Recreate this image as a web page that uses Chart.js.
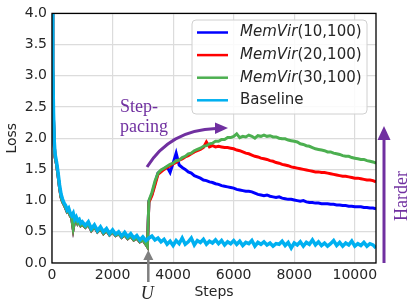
<!DOCTYPE html>
<html>
<head>
<meta charset="utf-8">
<script src="https://cdn.jsdelivr.net/npm/chart.js@4"></script>
<style>
  html, body { margin: 0; padding: 0; background: #fff; }
  #wrap { width: 415px; height: 307px; }
</style>
</head>
<body>
<div id="wrap"><canvas id="lossChart" width="415" height="307"></canvas></div>
<script>
// Loss vs. steps, MemVir curricula against the baseline

// sample positions (steps)
const headSteps = [0, 25, 50, 75, 100, 150, 200, 250, 300, 350, 400, 450, 500,
  550, 600, 650, 700, 750, 800, 850, 900, 950, 1000];

// baseline, 0..1000 then every 100 up to 10700
const baselineHead = [4.6, 3.2, 2.4, 1.95, 1.75, 1.62, 1.45, 1.25, 1.10, 1.02, 0.96, 0.92, 0.85,
  0.88, 0.80, 0.76, 0.80, 0.70, 0.74, 0.68, 0.70, 0.64, 0.66];
const baselineTail = [
  0.60, 0.66, 0.55, 0.61, 0.52, 0.58, 0.50, 0.55, 0.47,
  0.53, 0.46, 0.50, 0.43, 0.49, 0.42, 0.47, 0.40, 0.44, 0.37,
  0.42, 0.36, 0.40, 0.43, 0.37, 0.40, 0.34, 0.38, 0.30, 0.35,
  0.28, 0.36, 0.31, 0.40, 0.30, 0.34, 0.40, 0.29, 0.36, 0.33,
  0.38, 0.30, 0.35, 0.32, 0.37, 0.31, 0.36, 0.29, 0.34, 0.31,
  0.36, 0.30, 0.35, 0.28, 0.33, 0.31, 0.36, 0.27, 0.33, 0.30,
  0.34, 0.29, 0.32, 0.27, 0.31, 0.30, 0.35, 0.28, 0.33, 0.24,
  0.32, 0.29, 0.34, 0.27, 0.33, 0.30, 0.37, 0.29, 0.34, 0.28,
  0.32, 0.27, 0.31, 0.36, 0.28, 0.33, 0.27, 0.32, 0.29, 0.35,
  0.27, 0.31, 0.28, 0.33, 0.27, 0.31, 0.29, 0.24
];

// MemVir runs share the warm-up phase until U (~3150 steps)
const warmHead = [4.6, 3.1, 2.3, 1.9, 1.7, 1.58, 1.40, 1.20, 1.05, 0.98, 0.93, 0.88, 0.82,
  0.84, 0.76, 0.72, 0.55, 0.68, 0.70, 0.63, 0.66, 0.60, 0.62];
const warmTail = [
  0.57, 0.62, 0.52, 0.58, 0.50, 0.55, 0.47, 0.52, 0.45,
  0.50, 0.44, 0.47, 0.41, 0.45, 0.39, 0.43, 0.37, 0.40, 0.34,
  0.37, 0.30, 0.26
];

// after U, every 100 steps from 3200 to 10700
const memvir10 = [
  0.99, 1.10, 1.28, 1.44, 1.48, 1.51, 1.54, 1.45,
  1.60, 1.76, 1.57, 1.53, 1.50, 1.46, 1.44, 1.40, 1.38, 1.36,
  1.33, 1.32, 1.30, 1.29, 1.27, 1.26, 1.24, 1.23, 1.22, 1.21,
  1.20, 1.18, 1.17, 1.16, 1.15, 1.15, 1.14, 1.12, 1.10, 1.09,
  1.08, 1.09, 1.07, 1.06, 1.05, 1.06, 1.04, 1.03, 1.02, 1.02,
  1.01, 1.00, 0.99, 1.00, 0.98, 0.97, 0.97, 0.96, 0.96, 0.95,
  0.95, 0.95, 0.94, 0.94, 0.93, 0.93, 0.92, 0.92, 0.91, 0.91,
  0.90, 0.90, 0.90, 0.89, 0.89, 0.88, 0.88, 0.87
];
const memvir20 = [
  0.97, 1.08, 1.25, 1.42, 1.46, 1.50, 1.53, 1.56,
  1.59, 1.61, 1.65, 1.67, 1.70, 1.72, 1.75, 1.78, 1.80, 1.82,
  1.85, 1.94, 1.86, 1.88, 1.86, 1.87, 1.86, 1.85, 1.85, 1.84,
  1.83, 1.81, 1.80, 1.78, 1.76, 1.75, 1.73, 1.71, 1.70, 1.68,
  1.67, 1.66, 1.64, 1.63, 1.61, 1.60, 1.58, 1.57, 1.56, 1.54,
  1.53, 1.52, 1.51, 1.50, 1.49, 1.48, 1.47, 1.46, 1.46, 1.45,
  1.45, 1.44, 1.43, 1.42, 1.41, 1.40, 1.39, 1.39, 1.38, 1.37,
  1.36, 1.36, 1.35, 1.34, 1.33, 1.33, 1.32, 1.30
];
const memvir30 = [
  1.00, 1.13, 1.31, 1.44, 1.49, 1.52, 1.55, 1.58,
  1.60, 1.64, 1.65, 1.69, 1.71, 1.75, 1.76, 1.80, 1.82, 1.84,
  1.87, 1.88, 1.91, 1.92, 1.95, 1.95, 1.98, 1.98, 2.01, 2.01,
  2.03, 2.07, 2.01, 2.03, 2.02, 2.05, 2.03, 2.00, 2.04, 2.03,
  2.05, 2.03, 2.04, 2.02, 2.02, 2.00, 1.99, 1.99, 1.97, 1.96,
  1.95, 1.94, 1.91, 1.90, 1.88, 1.87, 1.85, 1.83, 1.82, 1.81,
  1.80, 1.78, 1.78, 1.76, 1.75, 1.74, 1.72, 1.71, 1.71, 1.69,
  1.68, 1.67, 1.66, 1.66, 1.64, 1.63, 1.62, 1.60
];

const seriesNames = ['MemVir', 'MemVir', 'MemVir', 'Baseline'];
const seriesArgs = ['(10,100)', '(20,100)', '(30,100)', ''];
const seriesColors = ['#0000ff', '#ff0000', '#4caf50', '#00b0f0'];

const xTicks = [0, 2000, 4000, 6000, 8000, 10000];
const yTicks = [0, 0.5, 1, 1.5, 2, 2.5, 3, 3.5, 4];

const PURPLE = '#7030a0';

function grid(from, to, by) {
  const out = [];
  for (let s = from; s <= to; s += by) out.push(s);
  return out;
}

function toPoints(steps, values) {
  return values.map((v, i) => ({ x: steps[i], y: v }));
}

const baselineSteps = headSteps.concat(grid(1100, 10700, 100));
const warmSteps = headSteps.concat(grid(1100, 3100, 100), [3150]);
const postSteps = grid(3200, 10700, 100);

const warmPoints = toPoints(warmSteps, warmHead.concat(warmTail));
const memvirData = [memvir10, memvir20, memvir30].map(v => warmPoints.concat(toPoints(postSteps, v)));
const baselineData = toPoints(baselineSteps, baselineHead.concat(baselineTail));

function makeDataset(i, data, order, width) {
  return {
    label: seriesNames[i] + seriesArgs[i],
    data: data,
    borderColor: seriesColors[i],
    backgroundColor: seriesColors[i],
    borderWidth: width,
    pointRadius: 0,
    tension: 0,
    order: order
  };
}

// frame, legend and the hand-drawn annotations
const overlay = {
  id: 'overlay',
  afterDatasetsDraw(chart) {
    const ctx = chart.ctx;
    const a = chart.chartArea;
    ctx.save();

    // box spines
    ctx.strokeStyle = '#000';
    ctx.lineWidth = 1.3;
    ctx.strokeRect(a.left, a.top, a.right - a.left, a.bottom - a.top);

    // legend
    const lx = 192, ly = 20, lw = 175, lh = 94;
    ctx.beginPath();
    ctx.roundRect(lx, ly, lw, lh, 4);
    ctx.fillStyle = 'rgba(255,255,255,0.85)';
    ctx.fill();
    ctx.strokeStyle = '#d0d0d0';
    ctx.lineWidth = 1;
    ctx.stroke();
    ctx.textBaseline = 'middle';
    for (let i = 0; i < 4; i++) {
      const y = 32.5 + i * 22.6;
      ctx.strokeStyle = seriesColors[i];
      ctx.lineWidth = 2.5;
      ctx.beginPath();
      ctx.moveTo(197, y);
      ctx.lineTo(228, y);
      ctx.stroke();
      ctx.fillStyle = '#262626';
      let x = 240;
      if (seriesArgs[i]) {
        ctx.font = 'italic 15px "DejaVu Sans"';
        ctx.fillText(seriesNames[i], x, y);
        x += ctx.measureText(seriesNames[i]).width;
        ctx.font = '15px "DejaVu Sans"';
        ctx.fillText(seriesArgs[i], x, y);
      } else {
        ctx.font = '15px "DejaVu Sans"';
        ctx.fillText(seriesNames[i], x, y);
      }
    }

    // "Step-pacing" with curved arrow
    ctx.fillStyle = PURPLE;
    ctx.font = '18px "Liberation Serif"';
    ctx.textAlign = 'left';
    ctx.fillText('Step-', 120, 107);
    ctx.fillText('pacing', 120, 127);
    ctx.strokeStyle = PURPLE;
    ctx.lineWidth = 3;
    ctx.beginPath();
    ctx.moveTo(147, 167);
    ctx.quadraticCurveTo(170, 130, 216, 128.5);
    ctx.stroke();
    ctx.beginPath();
    ctx.moveTo(228, 128);
    ctx.lineTo(215, 122.5);
    ctx.lineTo(215, 134);
    ctx.closePath();
    ctx.fill();

    // "Harder" arrow on the right
    ctx.beginPath();
    ctx.moveTo(384, 263);
    ctx.lineTo(384, 138);
    ctx.stroke();
    ctx.beginPath();
    ctx.moveTo(384, 126);
    ctx.lineTo(377.5, 140);
    ctx.lineTo(390.5, 140);
    ctx.closePath();
    ctx.fill();
    ctx.save();
    ctx.translate(402, 196);
    ctx.rotate(-Math.PI / 2);
    ctx.textAlign = 'center';
    ctx.fillText('Harder', 0, 0);
    ctx.restore();

    // U marker
    const ux = chart.scales.x.getPixelForValue(3180);
    ctx.strokeStyle = '#808080';
    ctx.fillStyle = '#808080';
    ctx.lineWidth = 2.5;
    ctx.beginPath();
    ctx.moveTo(ux, 282);
    ctx.lineTo(ux, 258);
    ctx.stroke();
    ctx.beginPath();
    ctx.moveTo(ux, 250);
    ctx.lineTo(ux - 5, 260);
    ctx.lineTo(ux + 5, 260);
    ctx.closePath();
    ctx.fill();
    ctx.fillStyle = '#262626';
    ctx.font = 'italic 18px "Liberation Serif"';
    ctx.textAlign = 'center';
    ctx.fillText('U', ux - 1, 294);

    ctx.restore();
  }
};

const tickFont = { family: 'DejaVu Sans', size: 14 };

new Chart(document.getElementById('lossChart'), {
  type: 'line',
  data: {
    datasets: [
      makeDataset(0, memvirData[0], 3, 3),
      makeDataset(1, memvirData[1], 2, 3),
      makeDataset(2, memvirData[2], 1, 3),
      makeDataset(3, baselineData, 0, 3.5)
    ]
  },
  options: {
    responsive: false,
    animation: false,
    events: [],
    layout: { padding: { top: 12, right: 39, left: 0, bottom: 0 } },
    plugins: {
      legend: { display: false },
      tooltip: { enabled: false }
    },
    scales: {
      x: {
        type: 'linear',
        min: 0,
        max: 10700,
        afterFit: s => { s.height = 44; },
        afterBuildTicks: s => { s.ticks = xTicks.map(v => ({ value: v })); },
        ticks: { font: tickFont, color: '#262626', padding: 4, includeBounds: false, callback: v => String(v) },
        grid: { color: '#dcdcdc', lineWidth: 1.2, drawTicks: false },
        border: { display: false },
        title: { display: true, text: 'Steps', font: tickFont, color: '#262626', padding: { top: 0, bottom: 6 } }
      },
      y: {
        min: 0,
        max: 4,
        afterFit: s => { s.width = 52; },
        afterBuildTicks: s => { s.ticks = yTicks.map(v => ({ value: v })); },
        ticks: { font: tickFont, color: '#262626', padding: 5, callback: v => v.toFixed(1) },
        grid: { color: '#dcdcdc', lineWidth: 1.2, drawTicks: false },
        border: { display: false },
        title: { display: true, text: 'Loss', font: tickFont, color: '#262626', padding: { top: 4, bottom: 0 } }
      }
    }
  },
  plugins: [overlay]
});
</script>
</body>
</html>
